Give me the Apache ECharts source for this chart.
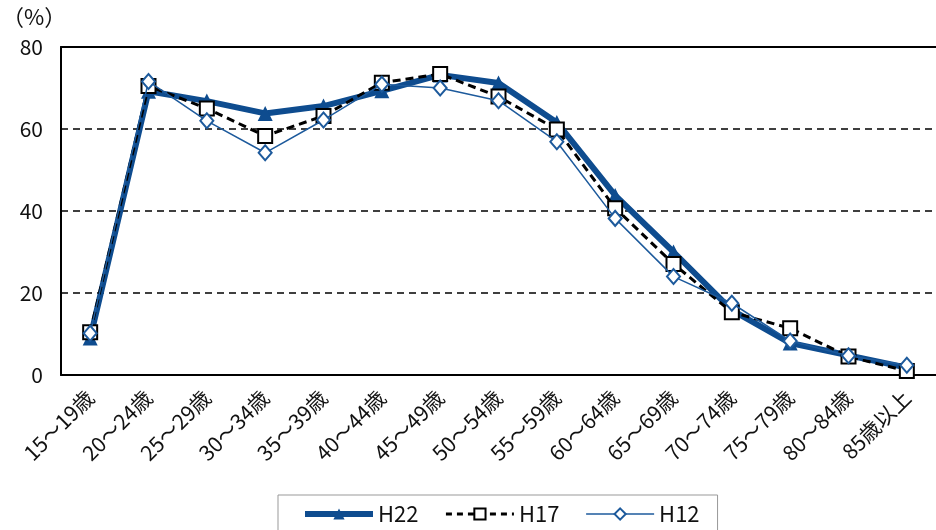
<!DOCTYPE html>
<html><head><meta charset="utf-8">
<script src="https://cdn.jsdelivr.net/npm/echarts@6/dist/echarts.min.js"></script>
<style>html,body{margin:0;padding:0;background:#fff}#c{width:936px;height:530px}</style>
</head><body><div id="c"></div>
<script>
const categories = ['15～19歳','20～24歳','25～29歳','30～34歳','35～39歳','40～44歳','45～49歳','50～54歳','55～59歳','60～64歳','65～69歳','70～74歳','75～79歳','80～84歳','85歳以上'];
const h22 = [9.0, 69.2, 66.8, 63.8, 65.6, 69.3, 73.2, 71.2, 61.6, 43.8, 30.0, 15.8, 7.8, 4.8, 1.8];
const h17 = [10.4, 70.5, 65.0, 58.3, 63.2, 71.3, 73.4, 67.9, 59.9, 40.7, 27.1, 15.3, 11.4, 4.5, 1.0];
const h12 = [10.2, 71.6, 62.0, 54.2, 62.2, 70.9, 70.0, 66.9, 56.9, 38.2, 24.0, 17.5, 8.3, 4.7, 2.4];
const yTicks = {min: 0, max: 80, interval: 20};
const FONT = '"Noto Sans CJK JP", "Noto Sans", sans-serif';
const C22 = '#0e4c8f', C12 = '#1d5a9c';

const chart = echarts.init(document.getElementById('c'), null, {renderer: 'canvas'});
chart.setOption({
  animation: false,
  textStyle: {fontFamily: FONT},
  grid: {left: 61, top: 47, right: -12, bottom: 155},
  graphic: [{type: 'text', left: 2, top: 6, style: {text: '（%）', font: '22px ' + FONT, fill: '#111'}}],
  legend: {
    left: 278, top: 495, padding: [8, 18, 30, 24],
    borderColor: '#999', borderWidth: 1,
    itemWidth: 68, itemHeight: 14, itemGap: 26,
    textStyle: {fontSize: 22, color: '#111', fontFamily: FONT},
    data: [
      {name: 'H22', lineStyle: {width: 6, color: C22}},
      {name: 'H17', lineStyle: {width: 3, type: [6, 5], color: '#000'}},
      {name: 'H12', lineStyle: {width: 1.5, color: C12}}
    ]
  },
  xAxis: [{
    type: 'category', data: categories, boundaryGap: true,
    axisLine: {lineStyle: {color: '#000', width: 2}},
    axisTick: {inside: true, length: 7, lineStyle: {color: '#000', width: 1.5}},
    axisLabel: {rotate: 45, fontSize: 21, color: '#111', margin: 19, interval: 0, fontFamily: FONT}
  }, {
    type: 'category', data: categories, position: 'top',
    axisLine: {show: true, lineStyle: {color: '#000', width: 2}},
    axisTick: {show: false}, axisLabel: {show: false}
  }],
  yAxis: {
    type: 'value', min: yTicks.min, max: yTicks.max, interval: yTicks.interval,
    axisLine: {show: true, lineStyle: {color: '#000', width: 2}},
    axisTick: {show: false},
    axisLabel: {fontSize: 21, color: '#111', margin: 18, fontFamily: FONT},
    splitLine: {lineStyle: {color: '#000', type: [7, 5], width: 1.5}}
  },
  series: [{
    name: 'H22', type: 'line', data: h22,
    symbol: 'triangle', symbolSize: 15,
    lineStyle: {color: C22, width: 6},
    itemStyle: {color: C22}, z: 2
  }, {
    name: 'H17', type: 'line', data: h17,
    symbol: 'rect', symbolSize: 14,
    lineStyle: {color: '#000', width: 3, type: [8, 5]},
    itemStyle: {color: '#fff', borderColor: '#000', borderWidth: 2}, z: 3
  }, {
    name: 'H12', type: 'line', data: h12,
    symbol: 'diamond', symbolSize: [13, 15],
    lineStyle: {color: C12, width: 1.5},
    itemStyle: {color: '#fff', borderColor: C12, borderWidth: 2}, z: 4
  }]
});
</script></body></html>
